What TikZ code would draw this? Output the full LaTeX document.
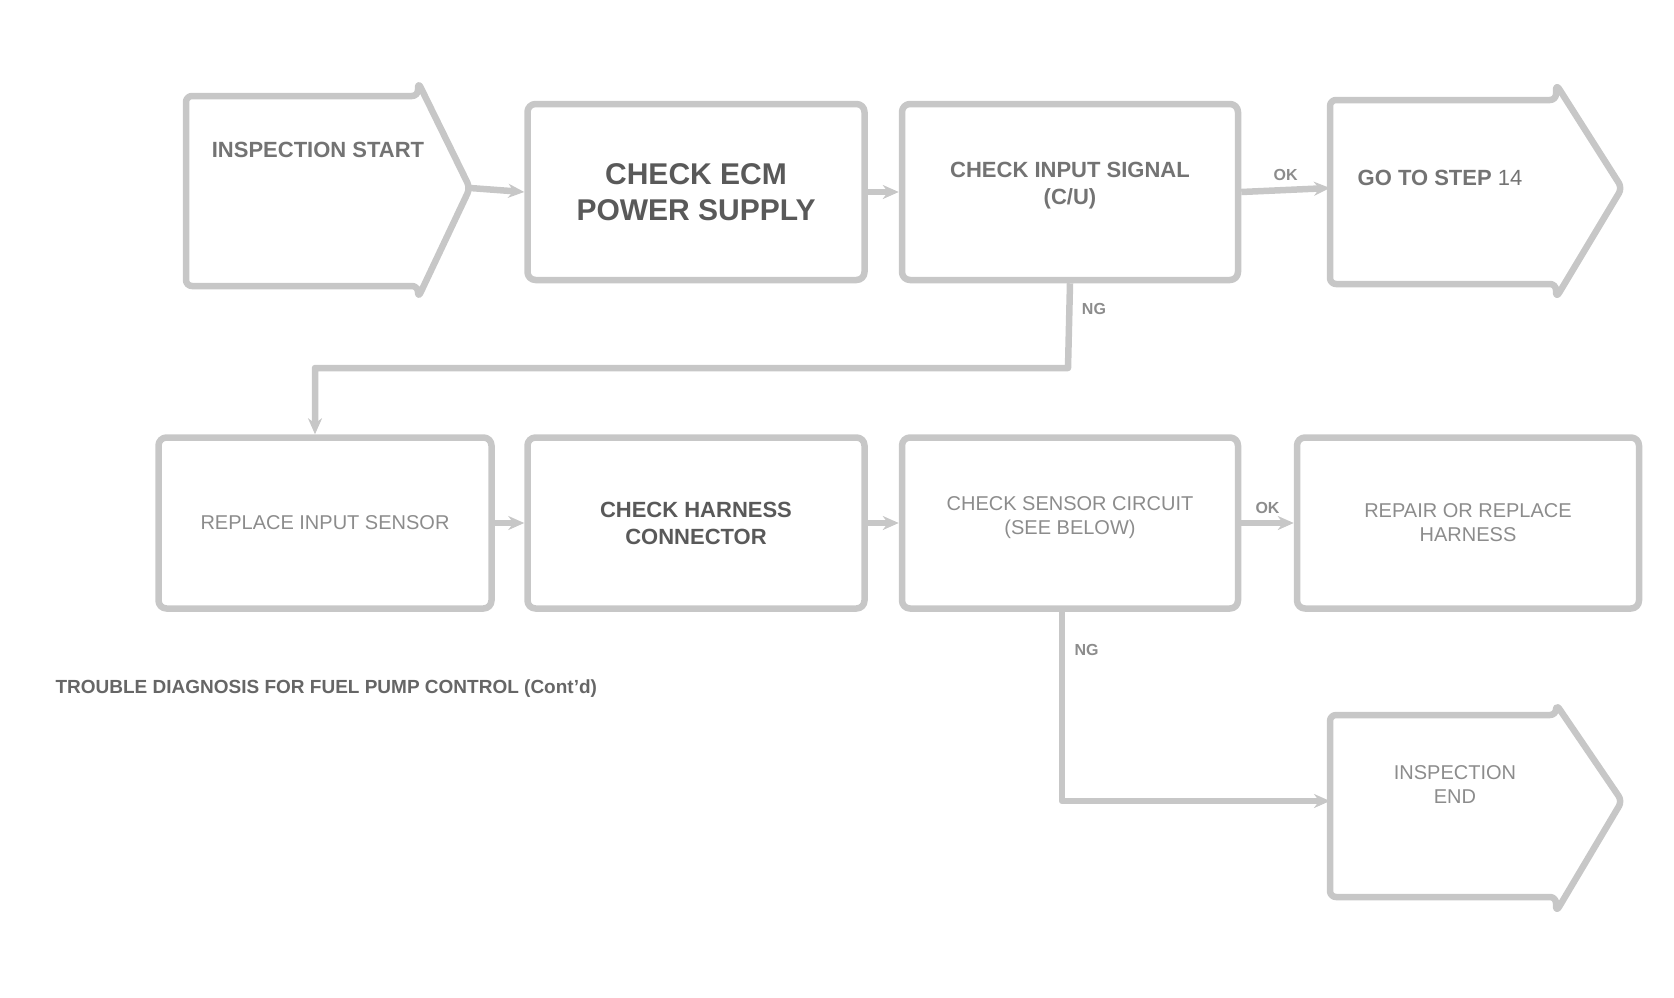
\documentclass[tikz,border=0pt]{standalone}
\usepackage{fontspec}
\setmainfont{Liberation Sans}
\usetikzlibrary{arrows.meta}
\begin{document}
\begin{tikzpicture}[x=1pt,y=-1pt,
  line/.style={draw=black!22,line width=6.5pt,line join=round},
  boxn/.style={line,rounded corners=8pt,minimum width=#1,minimum height=176pt,inner sep=0pt,align=center},
  tx/.style={text=black!55,font=\bfseries\fontsize{22}{27}\selectfont,align=center},
  lt/.style={text=black!45,font=\fontsize{20}{24}\selectfont,align=center},
  conn/.style={line,-{Stealth[length=16pt,width=14pt]}},
  lbl/.style={text=black!45,font=\bfseries\fontsize{16}{18}\selectfont}]
\useasboundingbox (0,0) rectangle (1674,997);
% row 1
\coordinate (Atip) at (470,188);
\draw[line,rounded corners=6pt] (186,96) -- (418,96) -- (418,82) -- (Atip) -- (418,298) -- (418,286) -- (186,286) -- cycle;
\node[tx] (A) at (318,150) {INSPECTION START};
\node[boxn=337pt] (B) at (696,192) {};
\node[tx,font=\bfseries\fontsize{30}{36}\selectfont,text=black!65] (Bt) at (B) {CHECK ECM\\POWER SUPPLY};
\node[boxn=336pt] (C) at (1070,192) {};
\node[tx] (Ct) at (1070,186) {CHECK INPUT SIGNAL\\(C/U)};
\coordinate (Dtip) at (1622,188);
\draw[line,rounded corners=6pt] (1330,100) -- (1556,100) -- (1556,84) -- (Dtip) -- (1556,298) -- (1556,284) -- (1330,284) -- cycle;
\node[tx] (D) at (1440,178) {GO TO STEP \textnormal{14}};
% row 2
\node[boxn=333pt,minimum height=171pt] (E) at (325,523) {};
\node[lt] (Et) at (E) {REPLACE INPUT SENSOR};
\node[boxn=337pt,minimum height=171pt] (F) at (696,523) {};
\node[tx,text=black!65] (Ft) at (F) {CHECK HARNESS\\CONNECTOR};
\node[boxn=336pt,minimum height=171pt] (G) at (1070,523) {};
\node[lt] (Gt) at (1070,518) {CHECK SENSOR CIRCUIT\\(SEE BELOW)};
\node[boxn=342pt,minimum height=171pt] (H) at (1468,523) {};
\node[lt] (Ht) at (H) {REPAIR OR REPLACE\\HARNESS};
\coordinate (Itip) at (1622,801);
\draw[line,rounded corners=6pt] (1330,715) -- (1556,715) -- (1556,704) -- (Itip) -- (1556,912) -- (1556,897) -- (1330,897) -- cycle;
\node[lt] (I) at (1455,785) {INSPECTION\\END};
\node[tx,font=\bfseries\fontsize{19}{22}\selectfont,text=black!60,anchor=west] (cap) at (52,689) {TROUBLE DIAGNOSIS FOR FUEL PUMP CONTROL (Cont'd)};
% connectors
\draw[conn] (Atip) -- (B.west);
\draw[conn] (B.east) -- (C.west);
\draw[conn] (C.east) -- node[lbl,above=3pt]{OK} (1330,188);
\coordinate (CE1) at (1068,368);
\coordinate (CE2) at (315,368);
\draw[conn] (C.south) -- node[lbl,right=6pt,pos=0.3]{NG} (CE1) -- (CE2) -- (E.north-|CE2);
\draw[conn] (E.east) -- (F.west);
\draw[conn] (F.east) -- (G.west);
\draw[conn] (G.east) -- node[lbl,above=3pt]{OK} (H.west);
\coordinate (GI) at (1062,801);
\draw[conn] (G.south-|GI) -- node[lbl,right=6pt,pos=0.2]{NG} (GI) -- (1330,801);
\end{tikzpicture}
\end{document}
